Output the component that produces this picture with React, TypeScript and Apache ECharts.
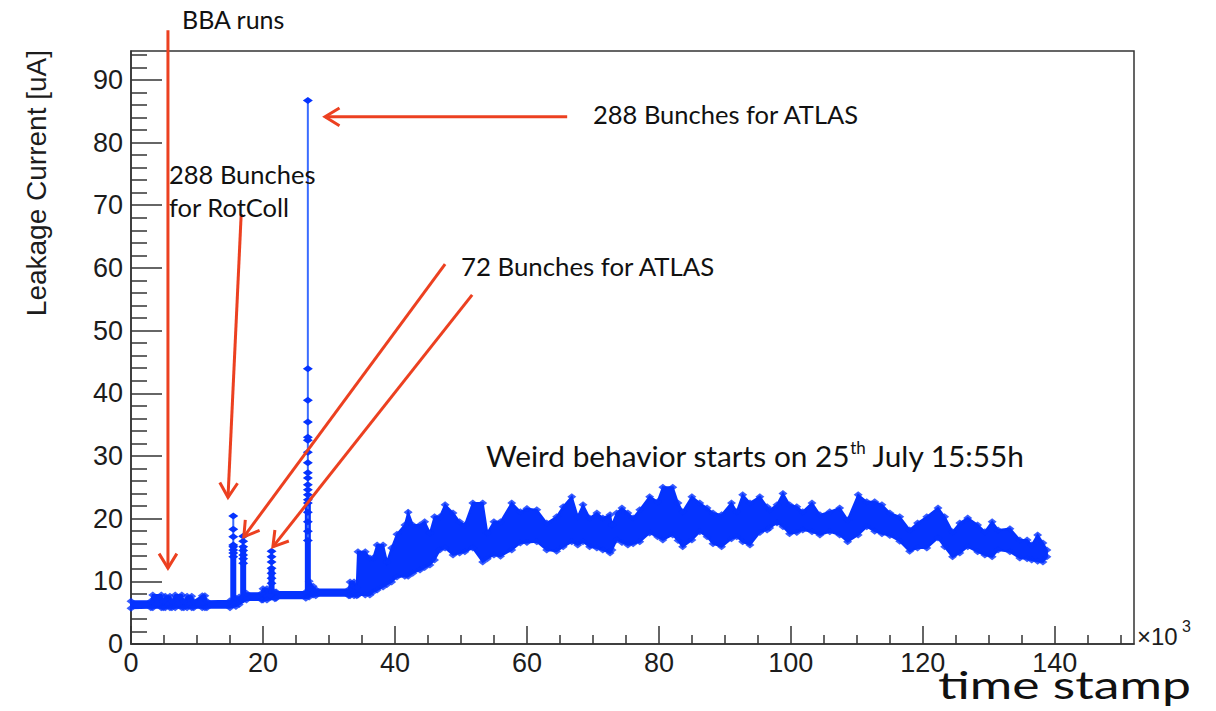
import React, { useEffect, useRef } from "react";
import * as echarts from "echarts";

// Axis ranges (time stamp in units of 10^3)
const X_MAX = 152;
const Y_MAX = 94.6;

const xMajorTicks = [0, 20, 40, 60, 80, 100, 120, 140];
const xMinorTicks = [5, 10, 15, 25, 30, 35, 45, 50, 55, 65, 70, 75, 85, 90, 95, 105, 110, 115, 125, 130, 135, 145, 150];
const yMajorTicks = [0, 10, 20, 30, 40, 50, 60, 70, 80, 90];
const yMinorTicks = [2, 4, 6, 8, 12, 14, 16, 18, 22, 24, 26, 28, 32, 34, 36, 38, 42, 44, 46, 48, 52, 54, 56, 58, 62, 64, 66, 68, 72, 74, 76, 78, 82, 84, 86, 88, 92, 94];

// Leakage current envelope (upper / lower edge of the measured band)
const bandX = [
  0, 3.0, 3.3, 4.6, 4.9, 5.2, 5.9, 6.2, 6.7, 7.7,
  8.0, 8.5, 9.2, 9.5, 10.8, 11.2, 11.5, 15.0, 15.9, 16.4,
  17.5, 19.8, 20.0, 20.6, 21.8, 22.0, 26.5, 27.0, 27.6, 28.0,
  33.0, 33.2, 33.8, 34.2, 34.4, 35.5, 36.2, 36.7, 37.3, 38.2,
  38.8, 39.5, 40.3, 41.5, 42.0, 42.7, 43.8, 44.5, 45.3, 46.0,
  46.8, 47.6, 48.8, 49.8, 50.6, 51.8, 53.3, 54.0, 55.0, 56.0,
  57.7, 59.0, 60.0, 61.5, 63.0, 64.5, 65.5, 66.8, 67.7, 68.5,
  69.5, 70.6, 71.5, 72.6, 72.9, 73.6, 74.4, 75.3, 76.1, 77.1,
  78.6, 79.8, 80.6, 82.1, 82.9, 83.6, 85.0, 86.2, 87.3, 88.2,
  89.5, 91.0, 91.8, 92.7, 93.8, 95.3, 96.4, 96.8, 97.9, 98.8,
  99.8, 100.9, 101.8, 103.2, 104.4, 105.9, 107.4, 108.6, 110.2, 111.5,
  112.7, 113.8, 115.0, 116.5, 118.0, 119.2, 120.6, 122.3, 123.3, 124.5,
  125.6, 126.8, 128.3, 129.4, 130.5, 131.4, 133.2, 134.7, 135.8, 136.5,
  137.4, 138.2, 138.8,
];
const bandHigh = [
  6.8, 6.8, 7.8, 7.8, 6.8, 7.6, 7.6, 6.8, 7.8, 7.8,
  6.8, 7.6, 7.6, 6.8, 7.7, 7.7, 6.8, 6.9, 7.3, 7.5,
  8.1, 8.1, 8.8, 8.8, 8.3, 8.3, 8.3, 10.0, 9.2, 8.7,
  8.7, 9.9, 9.9, 9.0, 14.7, 14.7, 13.7, 13.7, 15.8, 15.8,
  13.1, 15.3, 17.5, 19.0, 21.0, 19.0, 19.0, 19.5, 17.7, 20.3,
  20.3, 22.2, 20.9, 19.5, 19.0, 22.5, 22.5, 17.7, 19.5, 19.5,
  22.5, 21.1, 21.6, 21.4, 19.3, 20.3, 21.9, 23.5, 20.3, 22.2,
  20.1, 20.9, 20.1, 20.6, 19.0, 20.9, 21.7, 20.9, 20.1, 21.4,
  23.5, 22.7, 25.0, 25.0, 22.5, 21.1, 23.5, 22.5, 21.7, 20.9,
  20.6, 22.5, 21.1, 23.8, 22.5, 23.5, 21.9, 21.4, 22.2, 24.0,
  22.2, 21.9, 21.1, 22.5, 20.6, 21.1, 21.7, 19.8, 23.8, 22.7,
  22.7, 22.2, 20.9, 20.3, 18.2, 19.3, 20.3, 21.7, 20.3, 17.9,
  19.3, 20.1, 19.0, 17.9, 19.5, 18.2, 18.4, 16.6, 16.6, 15.8,
  17.4, 16.1, 15.0,
];
const bandLow = [
  5.7, 5.8, 5.8, 5.8, 5.8, 5.8, 5.8, 5.8, 5.8, 5.8,
  5.8, 5.8, 5.8, 5.8, 5.8, 5.8, 5.8, 5.8, 6.0, 6.3,
  7.0, 7.0, 7.0, 7.0, 7.2, 7.3, 7.3, 7.5, 7.8, 7.7,
  7.7, 7.7, 7.7, 7.7, 7.8, 7.8, 7.8, 8.3, 8.6, 9.1,
  9.5, 9.9, 10.7, 10.8, 10.8, 11.3, 11.8, 12.2, 12.6, 13.4,
  15.0, 15.3, 14.2, 14.5, 14.7, 15.3, 13.1, 13.6, 14.2, 14.0,
  15.0, 16.1, 16.2, 16.3, 15.0, 14.8, 15.5, 16.3, 15.8, 16.3,
  15.5, 15.3, 15.0, 14.5, 15.0, 16.6, 16.2, 15.8, 16.0, 16.3,
  17.7, 17.1, 16.6, 17.4, 16.5, 15.5, 16.6, 17.9, 17.1, 16.0,
  15.5, 16.8, 17.1, 16.3, 15.8, 17.8, 18.2, 18.5, 19.3, 18.7,
  17.6, 17.8, 18.2, 17.9, 17.4, 17.9, 17.4, 16.3, 17.4, 18.7,
  18.0, 17.6, 17.3, 16.4, 14.8, 15.3, 15.3, 16.9, 15.5, 13.9,
  14.5, 15.5, 14.7, 14.2, 13.9, 15.0, 14.7, 13.7, 13.6, 13.4,
  13.2, 13.1, 13.9,
];

// Beam-related spikes: position, baseline, top of the dense column, marker levels
const spikeX = [15.5, 17.0, 21.3, 26.8];
const spikeBase = [6.9, 7.0, 8.0, 8.3];
const spikeColumnTop = [15.8, 15.5, 12.1, 22.5];
const spikeLevels = [
  [13.9, 14.5, 15.0, 15.5, 15.8, 17.1, 18.3, 20.4],
  [12.9, 13.6, 14.2, 14.9, 15.5, 16.4, 17.2],
  [9.7, 10.5, 11.3, 12.1, 13.1, 13.9, 14.8],
  [16.5, 18.0, 19.5, 21.0, 22.5, 23.0, 23.8, 24.6, 25.4, 26.5, 27.3, 28.9, 30.6, 32.5, 33.0, 35.4, 38.9, 43.9, 86.7],
];

// Annotation arrows, tail and tip in data coordinates
const arrowTails = [[5.6, 97.9], [16.7, 68.6], [47.6, 60.6], [51.7, 55.7], [66.1, 84.1]];
const arrowTips = [[5.6, 12.1], [14.7, 23.4], [17.1, 17.1], [21.5, 15.5], [29.4, 84.1]];

const BLUE = "#0533ff";
const BLUE_LINE = "#3a6cff";
const RED = "#ec4020";
const AXIS = "#333333";
const FONT_AXIS = "'Liberation Sans', Arial, sans-serif";
const FONT_NOTE = "Lato, 'Open Sans', sans-serif";

function arrowElements(tail: number[], tip: number[]) {
  const dx = tip[0] - tail[0];
  const dy = tip[1] - tail[1];
  const len = Math.hypot(dx, dy);
  const ux = dx / len;
  const uy = dy / len;
  const L = 17;
  const a = 0.55;
  const c = Math.cos(a);
  const s = Math.sin(a);
  const b1 = [tip[0] - L * (ux * c - uy * s), tip[1] - L * (uy * c + ux * s)];
  const b2 = [tip[0] - L * (ux * c + uy * s), tip[1] - L * (uy * c - ux * s)];
  return [
    {
      type: "line",
      z: 100,
      shape: { x1: tail[0], y1: tail[1], x2: tip[0], y2: tip[1] },
      style: { stroke: RED, lineWidth: 3 },
    },
    {
      type: "polyline",
      z: 100,
      shape: { points: [b1, tip, b2] },
      style: { stroke: RED, lineWidth: 3, fill: null, lineJoin: "miter" },
    },
  ];
}

function noteText(text: string, x: number, y: number, fontSize: number) {
  return {
    type: "text",
    x,
    y,
    z: 100,
    style: {
      text,
      fontFamily: FONT_NOTE,
      fontSize,
      fill: "#111111",
      align: "left",
      verticalAlign: "middle",
    },
  };
}

export default function App() {
  const ref = useRef<HTMLDivElement>(null);

  useEffect(() => {
    if (!ref.current) return;
    const chart = echarts.init(ref.current, null, { renderer: "svg" });

    const axisLineStyle = { color: AXIS, width: 1.5 };
    const tickLabel = { fontFamily: FONT_AXIS, fontSize: 27, color: "#1c1c1c" };

    const edgePoints: number[][] = [];
    bandX.forEach((x, i) => {
      edgePoints.push([x, bandHigh[i]]);
      edgePoints.push([x, bandLow[i]]);
    });

    const spikeSeries: any[] = [];
    spikeX.forEach((x, k) => {
      spikeSeries.push({
        type: "line",
        data: [[x, spikeBase[k]], [x, spikeColumnTop[k]]],
        showSymbol: false,
        lineStyle: { color: BLUE, width: 6 },
        z: 3,
        silent: true,
      });
      const levels = spikeLevels[k];
      spikeSeries.push({
        type: "line",
        data: levels.map((v) => [x, v]),
        symbol: "diamond",
        symbolSize: [10, 7],
        showSymbol: true,
        itemStyle: { color: BLUE },
        lineStyle: { color: BLUE_LINE, width: 2 },
        z: 4,
        silent: true,
      });
    });

    chart.setOption({
      animation: false,
      backgroundColor: "#ffffff",
      grid: {
        left: 131,
        right: 82,
        top: 51,
        bottom: 67,
        show: true,
        borderColor: AXIS,
        borderWidth: 1.5,
        backgroundColor: "transparent",
      },
      xAxis: [
        {
          type: "value",
          min: 0,
          max: X_MAX,
          position: "bottom",
          axisLine: { show: true, onZero: false, lineStyle: axisLineStyle },
          axisTick: { show: true, inside: true, length: 18, customValues: xMajorTicks, lineStyle: axisLineStyle },
          axisLabel: { ...tickLabel, customValues: xMajorTicks, margin: 5 },
          splitLine: { show: false },
        },
        {
          type: "value",
          min: 0,
          max: X_MAX,
          position: "bottom",
          axisLine: { show: false },
          axisTick: { show: true, inside: true, length: 9, customValues: xMinorTicks, lineStyle: axisLineStyle },
          axisLabel: { show: false },
          splitLine: { show: false },
        },
      ],
      yAxis: [
        {
          type: "value",
          min: 0,
          max: Y_MAX,
          position: "left",
          axisLine: { show: true, onZero: false, lineStyle: axisLineStyle },
          axisTick: { show: true, inside: true, length: 31, customValues: yMajorTicks, lineStyle: axisLineStyle },
          axisLabel: { ...tickLabel, customValues: yMajorTicks, margin: 8 },
          splitLine: { show: false },
        },
        {
          type: "value",
          min: 0,
          max: Y_MAX,
          position: "left",
          axisLine: { show: false },
          axisTick: { show: true, inside: true, length: 16, customValues: yMinorTicks, lineStyle: axisLineStyle },
          axisLabel: { show: false },
          splitLine: { show: false },
        },
      ],
      series: [
        {
          type: "custom",
          xAxisIndex: 0,
          yAxisIndex: 0,
          data: [[0, 0]],
          z: 2,
          silent: true,
          renderItem: (params: any, api: any) => {
            const upper = bandX.map((x, i) => api.coord([x, bandHigh[i]]));
            const lower = bandX.map((x, i) => api.coord([x, bandLow[i]])).reverse();
            return {
              type: "polygon",
              shape: { points: upper.concat(lower) },
              style: { fill: BLUE, stroke: BLUE, lineWidth: 2 },
            };
          },
        },
        {
          type: "scatter",
          data: edgePoints,
          symbol: "diamond",
          symbolSize: [9, 7],
          itemStyle: { color: BLUE },
          z: 3,
          silent: true,
        },
        ...spikeSeries,
      ],
    });

    const arrows: any[] = [];
    arrowTails.forEach((t, i) => {
      const p0 = chart.convertToPixel({ gridIndex: 0 }, t) as number[];
      const p1 = chart.convertToPixel({ gridIndex: 0 }, arrowTips[i]) as number[];
      arrows.push(...arrowElements(p0, p1));
    });

    chart.setOption({
      graphic: [
        ...arrows,
        {
          type: "text",
          x: 36,
          y: 50,
          rotation: Math.PI / 2,
          z: 100,
          style: {
            text: "Leakage Current [uA]",
            fontFamily: FONT_AXIS,
            fontSize: 28,
            fill: "#1c1c1c",
            align: "right",
            verticalAlign: "middle",
          },
        },
        {
          type: "text",
          x: 1137,
          y: 636,
          z: 100,
          style: { text: "×10", fontFamily: FONT_AXIS, fontSize: 24, fill: "#1c1c1c", align: "left", verticalAlign: "middle" },
        },
        {
          type: "text",
          x: 1182,
          y: 626,
          z: 100,
          style: { text: "3", fontFamily: FONT_AXIS, fontSize: 16, fill: "#1c1c1c", align: "left", verticalAlign: "middle" },
        },
        noteText("BBA runs", 182, 19, 25),
        noteText("288 Bunches for ATLAS", 593, 114, 25.5),
        noteText("288 Bunches", 169, 174, 25.5),
        noteText("for RotColl", 169, 207, 25.5),
        noteText("72 Bunches for ATLAS", 461, 266, 25.8),
        {
          type: "text",
          x: 486,
          y: 455,
          z: 100,
          style: {
            text: "Weird behavior starts on 25{sup|th} July 15:55h",
            fontFamily: FONT_NOTE,
            fontSize: 29.8,
            fill: "#111111",
            align: "left",
            verticalAlign: "middle",
            rich: {
              sup: { fontFamily: FONT_NOTE, fontSize: 17, fill: "#111111", verticalAlign: "top", lineHeight: 32 },
            },
          },
        },
        {
          type: "text",
          x: 938,
          y: 684,
          z: 100,
          scaleX: 1.36,
          style: {
            text: "time stamp",
            fontFamily: FONT_NOTE,
            fontSize: 38,
            fill: "#111111",
            align: "left",
            verticalAlign: "middle",
          },
        },
      ],
    });

    return () => chart.dispose();
  }, []);

  return (
    <div
      ref={ref}
      style={{ position: "fixed", left: 0, top: 0, width: 1216, height: 711, background: "#ffffff" }}
    />
  );
}
